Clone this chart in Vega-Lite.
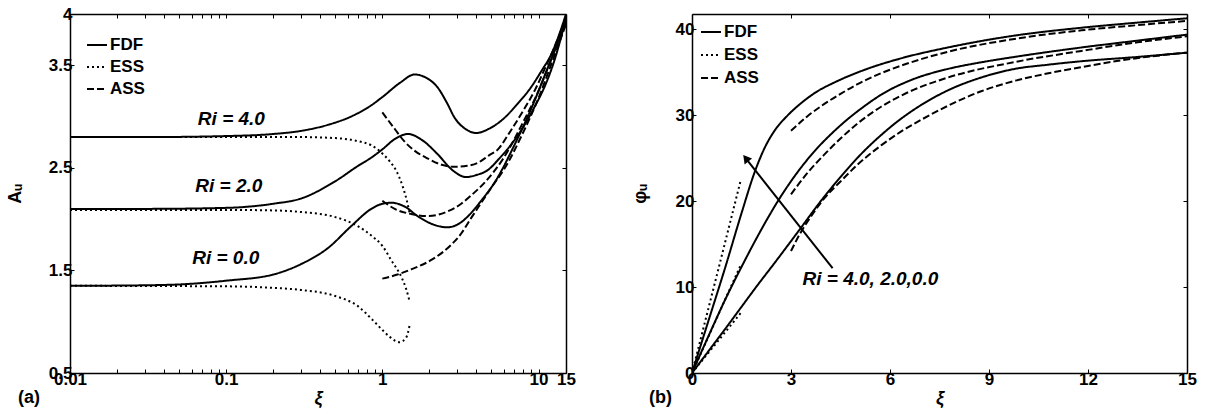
{
  "$schema": "https://vega.github.io/schema/vega-lite/v6.json",
  "padding": {"left": 6, "top": 5, "right": 2, "bottom": 2},
  "background": "white",
  "config": {
    "view": {"stroke": null},
    "font": "Liberation Sans",
    "axis": {"domainColor": "black", "domainWidth": 1.5, "tickColor": "black", "tickSize": -4, "tickWidth": 1, "labelFont": "Liberation Sans", "labelFontSize": 17, "labelFontWeight": "bold", "labelColor": "black", "grid": false, "titleFont": "Liberation Sans", "titleFontSize": 18, "titleFontWeight": "bold", "titleColor": "black", "labelPadding": 2},
    "legend": {"labelFont": "Liberation Sans", "labelFontSize": 17, "labelFontWeight": "bold", "labelColor": "black"}
  },
  "datasets": {
    "a": [
      {"m":"FDF","ri":"4","xi":0.01,"v":2.80},{"m":"FDF","ri":"4","xi":0.03,"v":2.80},{"m":"FDF","ri":"4","xi":0.1,"v":2.81},{"m":"FDF","ri":"4","xi":0.2,"v":2.83},{"m":"FDF","ri":"4","xi":0.3,"v":2.86},{"m":"FDF","ri":"4","xi":0.45,"v":2.92},{"m":"FDF","ri":"4","xi":0.63,"v":3.00},{"m":"FDF","ri":"4","xi":0.85,"v":3.11},{"m":"FDF","ri":"4","xi":1.0,"v":3.19},{"m":"FDF","ri":"4","xi":1.3,"v":3.33},{"m":"FDF","ri":"4","xi":1.61,"v":3.41},{"m":"FDF","ri":"4","xi":1.9,"v":3.38},{"m":"FDF","ri":"4","xi":2.27,"v":3.28},{"m":"FDF","ri":"4","xi":2.6,"v":3.13},{"m":"FDF","ri":"4","xi":2.9,"v":2.99},{"m":"FDF","ri":"4","xi":3.4,"v":2.88},{"m":"FDF","ri":"4","xi":4.0,"v":2.84},{"m":"FDF","ri":"4","xi":4.8,"v":2.88},{"m":"FDF","ri":"4","xi":6.08,"v":2.99},{"m":"FDF","ri":"4","xi":7.4,"v":3.13},{"m":"FDF","ri":"4","xi":8.9,"v":3.28},{"m":"FDF","ri":"4","xi":10.5,"v":3.45},{"m":"FDF","ri":"4","xi":12.1,"v":3.61},{"m":"FDF","ri":"4","xi":13.5,"v":3.79},{"m":"FDF","ri":"4","xi":15,"v":4.0},
      {"m":"FDF","ri":"2","xi":0.01,"v":2.10},{"m":"FDF","ri":"2","xi":0.03,"v":2.10},{"m":"FDF","ri":"2","xi":0.1,"v":2.11},{"m":"FDF","ri":"2","xi":0.2,"v":2.15},{"m":"FDF","ri":"2","xi":0.3,"v":2.20},{"m":"FDF","ri":"2","xi":0.5,"v":2.37},{"m":"FDF","ri":"2","xi":0.7,"v":2.52},{"m":"FDF","ri":"2","xi":0.85,"v":2.60},{"m":"FDF","ri":"2","xi":1.0,"v":2.68},{"m":"FDF","ri":"2","xi":1.2,"v":2.78},{"m":"FDF","ri":"2","xi":1.46,"v":2.83},{"m":"FDF","ri":"2","xi":1.8,"v":2.77},{"m":"FDF","ri":"2","xi":2.27,"v":2.63},{"m":"FDF","ri":"2","xi":2.8,"v":2.48},{"m":"FDF","ri":"2","xi":3.45,"v":2.41},{"m":"FDF","ri":"2","xi":4.0,"v":2.43},{"m":"FDF","ri":"2","xi":4.75,"v":2.48},{"m":"FDF","ri":"2","xi":5.6,"v":2.59},{"m":"FDF","ri":"2","xi":6.7,"v":2.73},{"m":"FDF","ri":"2","xi":8.0,"v":2.90},{"m":"FDF","ri":"2","xi":9.4,"v":3.09},{"m":"FDF","ri":"2","xi":11,"v":3.30},{"m":"FDF","ri":"2","xi":12.6,"v":3.54},{"m":"FDF","ri":"2","xi":15,"v":3.96},
      {"m":"FDF","ri":"0","xi":0.01,"v":1.35},{"m":"FDF","ri":"0","xi":0.03,"v":1.355},{"m":"FDF","ri":"0","xi":0.06,"v":1.37},{"m":"FDF","ri":"0","xi":0.1,"v":1.40},{"m":"FDF","ri":"0","xi":0.2,"v":1.46},{"m":"FDF","ri":"0","xi":0.3,"v":1.56},{"m":"FDF","ri":"0","xi":0.45,"v":1.72},{"m":"FDF","ri":"0","xi":0.63,"v":1.93},{"m":"FDF","ri":"0","xi":0.85,"v":2.10},{"m":"FDF","ri":"0","xi":1.0,"v":2.15},{"m":"FDF","ri":"0","xi":1.14,"v":2.16},{"m":"FDF","ri":"0","xi":1.4,"v":2.12},{"m":"FDF","ri":"0","xi":1.68,"v":2.03},{"m":"FDF","ri":"0","xi":2.1,"v":1.95},{"m":"FDF","ri":"0","xi":2.6,"v":1.92},{"m":"FDF","ri":"0","xi":3.2,"v":1.97},{"m":"FDF","ri":"0","xi":3.7,"v":2.06},{"m":"FDF","ri":"0","xi":4.3,"v":2.18},{"m":"FDF","ri":"0","xi":5.3,"v":2.37},{"m":"FDF","ri":"0","xi":7,"v":2.72},{"m":"FDF","ri":"0","xi":9,"v":3.08},{"m":"FDF","ri":"0","xi":11.5,"v":3.48},{"m":"FDF","ri":"0","xi":15,"v":3.92},
      {"m":"ESS","ri":"4","xi":0.01,"v":2.80},{"m":"ESS","ri":"4","xi":0.1,"v":2.80},{"m":"ESS","ri":"4","xi":0.3,"v":2.80},{"m":"ESS","ri":"4","xi":0.5,"v":2.79},{"m":"ESS","ri":"4","xi":0.7,"v":2.76},{"m":"ESS","ri":"4","xi":0.85,"v":2.72},{"m":"ESS","ri":"4","xi":1.0,"v":2.64},{"m":"ESS","ri":"4","xi":1.12,"v":2.56},{"m":"ESS","ri":"4","xi":1.23,"v":2.47},{"m":"ESS","ri":"4","xi":1.35,"v":2.32},{"m":"ESS","ri":"4","xi":1.43,"v":2.19},{"m":"ESS","ri":"4","xi":1.5,"v":2.05},
      {"m":"ESS","ri":"2","xi":0.01,"v":2.09},{"m":"ESS","ri":"2","xi":0.1,"v":2.09},{"m":"ESS","ri":"2","xi":0.2,"v":2.085},{"m":"ESS","ri":"2","xi":0.3,"v":2.07},{"m":"ESS","ri":"2","xi":0.5,"v":2.02},{"m":"ESS","ri":"2","xi":0.7,"v":1.93},{"m":"ESS","ri":"2","xi":0.85,"v":1.84},{"m":"ESS","ri":"2","xi":1.0,"v":1.74},{"m":"ESS","ri":"2","xi":1.14,"v":1.60},{"m":"ESS","ri":"2","xi":1.33,"v":1.43},{"m":"ESS","ri":"2","xi":1.42,"v":1.32},{"m":"ESS","ri":"2","xi":1.5,"v":1.19},
      {"m":"ESS","ri":"0","xi":0.01,"v":1.35},{"m":"ESS","ri":"0","xi":0.1,"v":1.345},{"m":"ESS","ri":"0","xi":0.2,"v":1.33},{"m":"ESS","ri":"0","xi":0.3,"v":1.31},{"m":"ESS","ri":"0","xi":0.5,"v":1.25},{"m":"ESS","ri":"0","xi":0.7,"v":1.15},{"m":"ESS","ri":"0","xi":0.85,"v":1.03},{"m":"ESS","ri":"0","xi":1.0,"v":0.92},{"m":"ESS","ri":"0","xi":1.1,"v":0.86},{"m":"ESS","ri":"0","xi":1.29,"v":0.80},{"m":"ESS","ri":"0","xi":1.42,"v":0.845},{"m":"ESS","ri":"0","xi":1.5,"v":0.975},
      {"m":"ASS","ri":"4","xi":1.0,"v":3.04},{"m":"ASS","ri":"4","xi":1.2,"v":2.88},{"m":"ASS","ri":"4","xi":1.38,"v":2.76},{"m":"ASS","ri":"4","xi":1.6,"v":2.67},{"m":"ASS","ri":"4","xi":1.96,"v":2.59},{"m":"ASS","ri":"4","xi":2.4,"v":2.53},{"m":"ASS","ri":"4","xi":2.9,"v":2.51},{"m":"ASS","ri":"4","xi":3.5,"v":2.52},{"m":"ASS","ri":"4","xi":4.1,"v":2.55},{"m":"ASS","ri":"4","xi":4.8,"v":2.62},{"m":"ASS","ri":"4","xi":5.5,"v":2.68},{"m":"ASS","ri":"4","xi":6.5,"v":2.84},{"m":"ASS","ri":"4","xi":8,"v":3.06},{"m":"ASS","ri":"4","xi":9.5,"v":3.26},{"m":"ASS","ri":"4","xi":11,"v":3.47},{"m":"ASS","ri":"4","xi":13,"v":3.72},{"m":"ASS","ri":"4","xi":15,"v":3.97},
      {"m":"ASS","ri":"2","xi":1.0,"v":2.18},{"m":"ASS","ri":"2","xi":1.2,"v":2.10},{"m":"ASS","ri":"2","xi":1.53,"v":2.05},{"m":"ASS","ri":"2","xi":1.96,"v":2.03},{"m":"ASS","ri":"2","xi":2.66,"v":2.08},{"m":"ASS","ri":"2","xi":3.2,"v":2.15},{"m":"ASS","ri":"2","xi":3.7,"v":2.23},{"m":"ASS","ri":"2","xi":4.6,"v":2.37},{"m":"ASS","ri":"2","xi":6,"v":2.60},{"m":"ASS","ri":"2","xi":8,"v":2.95},{"m":"ASS","ri":"2","xi":10,"v":3.25},{"m":"ASS","ri":"2","xi":12,"v":3.55},{"m":"ASS","ri":"2","xi":15,"v":3.93},
      {"m":"ASS","ri":"0","xi":1.0,"v":1.42},{"m":"ASS","ri":"0","xi":1.25,"v":1.46},{"m":"ASS","ri":"0","xi":1.53,"v":1.51},{"m":"ASS","ri":"0","xi":2.1,"v":1.61},{"m":"ASS","ri":"0","xi":2.76,"v":1.75},{"m":"ASS","ri":"0","xi":3.2,"v":1.86},{"m":"ASS","ri":"0","xi":3.7,"v":2.01},{"m":"ASS","ri":"0","xi":4.3,"v":2.16},{"m":"ASS","ri":"0","xi":5.0,"v":2.31},{"m":"ASS","ri":"0","xi":6.1,"v":2.50},{"m":"ASS","ri":"0","xi":8,"v":2.85},{"m":"ASS","ri":"0","xi":10,"v":3.18},{"m":"ASS","ri":"0","xi":12,"v":3.50},{"m":"ASS","ri":"0","xi":15,"v":3.90}
    ],
    "b": [
      {"m":"FDF","ri":"4","xi":0,"v":0},{"m":"FDF","ri":"4","xi":0.5,"v":6.1},{"m":"FDF","ri":"4","xi":1.0,"v":12.2},{"m":"FDF","ri":"4","xi":1.5,"v":18.6},{"m":"FDF","ri":"4","xi":1.9,"v":23.4},{"m":"FDF","ri":"4","xi":2.2,"v":26.2},{"m":"FDF","ri":"4","xi":2.5,"v":28.2},{"m":"FDF","ri":"4","xi":2.9,"v":30.0},{"m":"FDF","ri":"4","xi":3.3,"v":31.4},{"m":"FDF","ri":"4","xi":3.8,"v":32.8},{"m":"FDF","ri":"4","xi":4.3,"v":33.8},{"m":"FDF","ri":"4","xi":5.3,"v":35.4},{"m":"FDF","ri":"4","xi":6.3,"v":36.6},{"m":"FDF","ri":"4","xi":7.75,"v":37.9},{"m":"FDF","ri":"4","xi":9.8,"v":39.3},{"m":"FDF","ri":"4","xi":11.8,"v":40.2},{"m":"FDF","ri":"4","xi":13.5,"v":40.8},{"m":"FDF","ri":"4","xi":15,"v":41.3},
      {"m":"FDF","ri":"2","xi":0,"v":0},{"m":"FDF","ri":"2","xi":0.5,"v":4.3},{"m":"FDF","ri":"2","xi":1.0,"v":8.5},{"m":"FDF","ri":"2","xi":1.48,"v":12.2},{"m":"FDF","ri":"2","xi":2.0,"v":16.0},{"m":"FDF","ri":"2","xi":2.6,"v":20.0},{"m":"FDF","ri":"2","xi":3.3,"v":23.9},{"m":"FDF","ri":"2","xi":3.8,"v":26.2},{"m":"FDF","ri":"2","xi":4.21,"v":27.8},{"m":"FDF","ri":"2","xi":4.7,"v":29.5},{"m":"FDF","ri":"2","xi":5.2,"v":31.0},{"m":"FDF","ri":"2","xi":5.73,"v":32.4},{"m":"FDF","ri":"2","xi":6.7,"v":34.2},{"m":"FDF","ri":"2","xi":7.75,"v":35.4},{"m":"FDF","ri":"2","xi":8.8,"v":36.2},{"m":"FDF","ri":"2","xi":9.77,"v":36.8},{"m":"FDF","ri":"2","xi":11.8,"v":37.9},{"m":"FDF","ri":"2","xi":13.5,"v":38.7},{"m":"FDF","ri":"2","xi":15,"v":39.4},
      {"m":"FDF","ri":"0","xi":0,"v":0},{"m":"FDF","ri":"0","xi":0.5,"v":2.55},{"m":"FDF","ri":"0","xi":1.0,"v":5.1},{"m":"FDF","ri":"0","xi":1.48,"v":7.6},{"m":"FDF","ri":"0","xi":2.0,"v":10.3},{"m":"FDF","ri":"0","xi":2.5,"v":12.8},{"m":"FDF","ri":"0","xi":3.3,"v":16.9},{"m":"FDF","ri":"0","xi":3.9,"v":20.0},{"m":"FDF","ri":"0","xi":4.52,"v":22.9},{"m":"FDF","ri":"0","xi":5.1,"v":25.4},{"m":"FDF","ri":"0","xi":5.73,"v":27.7},{"m":"FDF","ri":"0","xi":6.23,"v":29.3},{"m":"FDF","ri":"0","xi":6.74,"v":30.7},{"m":"FDF","ri":"0","xi":7.75,"v":32.9},{"m":"FDF","ri":"0","xi":8.76,"v":34.4},{"m":"FDF","ri":"0","xi":9.77,"v":35.4},{"m":"FDF","ri":"0","xi":10.8,"v":35.9},{"m":"FDF","ri":"0","xi":11.8,"v":36.3},{"m":"FDF","ri":"0","xi":13.5,"v":36.8},{"m":"FDF","ri":"0","xi":15,"v":37.3},
      {"m":"ESS","ri":"4","xi":0,"v":0},{"m":"ESS","ri":"4","xi":0.74,"v":11.2},{"m":"ESS","ri":"4","xi":1.48,"v":22.5},
      {"m":"ESS","ri":"2","xi":0,"v":0},{"m":"ESS","ri":"2","xi":0.74,"v":6.3},{"m":"ESS","ri":"2","xi":1.48,"v":12.6},
      {"m":"ESS","ri":"0","xi":0,"v":0},{"m":"ESS","ri":"0","xi":0.74,"v":3.5},{"m":"ESS","ri":"0","xi":1.48,"v":7.0},
      {"m":"ASS","ri":"4","xi":3.0,"v":28.2},{"m":"ASS","ri":"4","xi":3.5,"v":29.9},{"m":"ASS","ri":"4","xi":4.0,"v":31.3},{"m":"ASS","ri":"4","xi":4.5,"v":32.5},{"m":"ASS","ri":"4","xi":5.0,"v":33.6},{"m":"ASS","ri":"4","xi":5.73,"v":34.9},{"m":"ASS","ri":"4","xi":6.5,"v":36.0},{"m":"ASS","ri":"4","xi":7.75,"v":37.4},{"m":"ASS","ri":"4","xi":9.77,"v":38.9},{"m":"ASS","ri":"4","xi":11.8,"v":39.9},{"m":"ASS","ri":"4","xi":13.5,"v":40.5},{"m":"ASS","ri":"4","xi":15,"v":41.0},
      {"m":"ASS","ri":"2","xi":3.0,"v":20.8},{"m":"ASS","ri":"2","xi":3.5,"v":23.3},{"m":"ASS","ri":"2","xi":4.0,"v":25.4},{"m":"ASS","ri":"2","xi":4.5,"v":27.3},{"m":"ASS","ri":"2","xi":5.0,"v":29.0},{"m":"ASS","ri":"2","xi":5.73,"v":31.0},{"m":"ASS","ri":"2","xi":6.5,"v":32.6},{"m":"ASS","ri":"2","xi":7.75,"v":34.4},{"m":"ASS","ri":"2","xi":9.77,"v":36.2},{"m":"ASS","ri":"2","xi":11.8,"v":37.5},{"m":"ASS","ri":"2","xi":13.5,"v":38.5},{"m":"ASS","ri":"2","xi":15,"v":39.2},
      {"m":"ASS","ri":"0","xi":3.0,"v":14.2},{"m":"ASS","ri":"0","xi":3.3,"v":16.4},{"m":"ASS","ri":"0","xi":3.6,"v":18.2},{"m":"ASS","ri":"0","xi":4.0,"v":20.3},{"m":"ASS","ri":"0","xi":4.5,"v":22.3},{"m":"ASS","ri":"0","xi":5.0,"v":24.2},{"m":"ASS","ri":"0","xi":5.73,"v":26.5},{"m":"ASS","ri":"0","xi":6.33,"v":28.1},{"m":"ASS","ri":"0","xi":7.0,"v":29.6},{"m":"ASS","ri":"0","xi":7.75,"v":31.1},{"m":"ASS","ri":"0","xi":8.76,"v":32.8},{"m":"ASS","ri":"0","xi":9.77,"v":34.0},{"m":"ASS","ri":"0","xi":10.8,"v":34.9},{"m":"ASS","ri":"0","xi":11.8,"v":35.6},{"m":"ASS","ri":"0","xi":13.0,"v":36.4},{"m":"ASS","ri":"0","xi":15,"v":37.3}
    ],
    "annA": [
      {"xi":0.108,"v":2.98,"t":"Ri = 4.0"},
      {"xi":0.104,"v":2.32,"t":"Ri = 2.0"},
      {"xi":0.0993,"v":1.625,"t":"Ri = 0.0"}
    ],
    "annB": [
      {"xi":3.35,"v":10.9,"t":"Ri = 4.0, 2.0,0.0"}
    ],
    "arrow": [
      {"xi":4.26,"v":12.2},
      {"xi":1.63,"v":25.0}
    ],
    "head": [
      {"xi":1.63,"v":25.0}
    ]
  },
  "spacing": 126,
  "bounds": "flush",
  "resolve": {
    "scale": {"x": "independent", "y": "independent", "strokeDash": "independent"},
    "legend": {"strokeDash": "independent"}
  },
  "hconcat": [
    {
      "width": 496,
      "height": 359,
      "title": {"text": "(a)", "orient": "bottom", "anchor": "start", "frame": "group", "dx": -52, "offset": -18, "fontSize": 18, "fontWeight": "bold", "color": "black", "font": "Liberation Sans"},
      "resolve": {"axis": {"x": "independent", "y": "independent"}},
      "layer": [
        {
          "data": {"name": "a"},
          "mark": {"type": "line", "strokeWidth": 2, "color": "black", "clip": true, "interpolate": "monotone"},
          "encoding": {
            "x": {"field": "xi", "type": "quantitative",
              "scale": {"type": "log", "domain": [0.01, 15], "nice": false},
              "axis": {"values": [0.01,0.02,0.03,0.04,0.05,0.06,0.07,0.08,0.09,0.1,0.2,0.3,0.4,0.5,0.6,0.7,0.8,0.9,1,2,3,4,5,6,7,8,9,10,15],
                "labelExpr": "indexof([0.01,0.1,1,10,15], datum.value) >= 0 ? format(datum.value, '~g') : ''",
                "title": "ξ", "titleFontStyle": "italic", "titlePadding": 2, "labelFlush": false, "labelOverlap": false}},
            "y": {"field": "v", "type": "quantitative",
              "scale": {"domain": [0.5, 4], "nice": false, "zero": false},
              "axis": {"values": [0.5, 1.5, 2.5, 3.5, 4], "format": "~g", "title": "Aᵤ", "titlePadding": 24, "labelFlush": false, "labelOverlap": false}},
            "strokeDash": {"field": "m", "type": "nominal",
              "scale": {"domain": ["FDF", "ESS", "ASS"], "range": [[1, 0], [2, 3], [7, 3]]},
              "legend": {"orient": "none", "legendX": 16, "legendY": 20, "title": null, "symbolType": "stroke", "symbolSize": 400, "symbolStrokeWidth": 2, "symbolStrokeColor": "black", "labelOffset": 2, "rowPadding": 3, "padding": 0}},
            "detail": {"field": "ri"}
          }
        },
        {
          "data": {"name": "annA"},
          "mark": {"type": "text", "fontSize": 19, "fontWeight": "bold", "fontStyle": "italic", "font": "Liberation Sans", "color": "black"},
          "encoding": {
            "x": {"field": "xi", "type": "quantitative",
              "axis": {"orient": "top", "values": [0.01,0.02,0.03,0.04,0.05,0.06,0.07,0.08,0.09,0.1,0.2,0.3,0.4,0.5,0.6,0.7,0.8,0.9,1,2,3,4,5,6,7,8,9,10,15], "labels": false, "title": null}},
            "y": {"field": "v", "type": "quantitative",
              "axis": {"orient": "right", "values": [0.5, 1.5, 2.5, 3.5, 4], "labels": false, "title": null}},
            "text": {"field": "t"}
          }
        }
      ]
    },
    {
      "width": 495,
      "height": 359,
      "title": {"text": "(b)", "orient": "bottom", "anchor": "start", "frame": "group", "dx": -43, "offset": -18, "fontSize": 18, "fontWeight": "bold", "color": "black", "font": "Liberation Sans"},
      "resolve": {"axis": {"x": "independent", "y": "independent"}},
      "layer": [
        {
          "data": {"name": "b"},
          "mark": {"type": "line", "strokeWidth": 2, "color": "black", "clip": true, "interpolate": "monotone"},
          "encoding": {
            "x": {"field": "xi", "type": "quantitative",
              "scale": {"domain": [0, 15], "nice": false, "zero": false},
              "axis": {"values": [0, 3, 6, 9, 12, 15], "title": "ξ", "titleFontStyle": "italic", "titlePadding": 2, "labelFlush": false}},
            "y": {"field": "v", "type": "quantitative",
              "scale": {"domain": [0, 41.8], "nice": false, "zero": false},
              "axis": {"values": [0, 10, 20, 30, 40], "title": "φᵤ", "titlePadding": 26, "labelFlush": false}},
            "strokeDash": {"field": "m", "type": "nominal",
              "scale": {"domain": ["FDF", "ESS", "ASS"], "range": [[1, 0], [2, 3], [7, 3]]},
              "legend": {"orient": "none", "legendX": 8, "legendY": 7, "title": null, "symbolType": "stroke", "symbolSize": 400, "symbolStrokeWidth": 2, "symbolStrokeColor": "black", "labelOffset": 2, "rowPadding": 4, "padding": 0}},
            "detail": {"field": "ri"}
          }
        },
        {
          "data": {"name": "annB"},
          "mark": {"type": "text", "fontSize": 19, "fontWeight": "bold", "fontStyle": "italic", "font": "Liberation Sans", "color": "black", "align": "left"},
          "encoding": {
            "x": {"field": "xi", "type": "quantitative",
              "axis": {"orient": "top", "values": [0, 3, 6, 9, 12, 15], "labels": false, "title": null}},
            "y": {"field": "v", "type": "quantitative",
              "axis": {"orient": "right", "values": [0, 10, 20, 30, 40], "labels": false, "title": null}},
            "text": {"field": "t"}
          }
        },
        {
          "data": {"name": "arrow"},
          "mark": {"type": "line", "strokeWidth": 2, "color": "black"},
          "encoding": {
            "x": {"field": "xi", "type": "quantitative", "axis": null},
            "y": {"field": "v", "type": "quantitative", "axis": null}
          }
        },
        {
          "data": {"name": "head"},
          "mark": {"type": "point", "shape": "triangle-up", "filled": true, "color": "black", "opacity": 1, "size": 90, "angle": 321.5},
          "encoding": {
            "x": {"field": "xi", "type": "quantitative", "axis": null},
            "y": {"field": "v", "type": "quantitative", "axis": null}
          }
        }
      ]
    }
  ]
}
